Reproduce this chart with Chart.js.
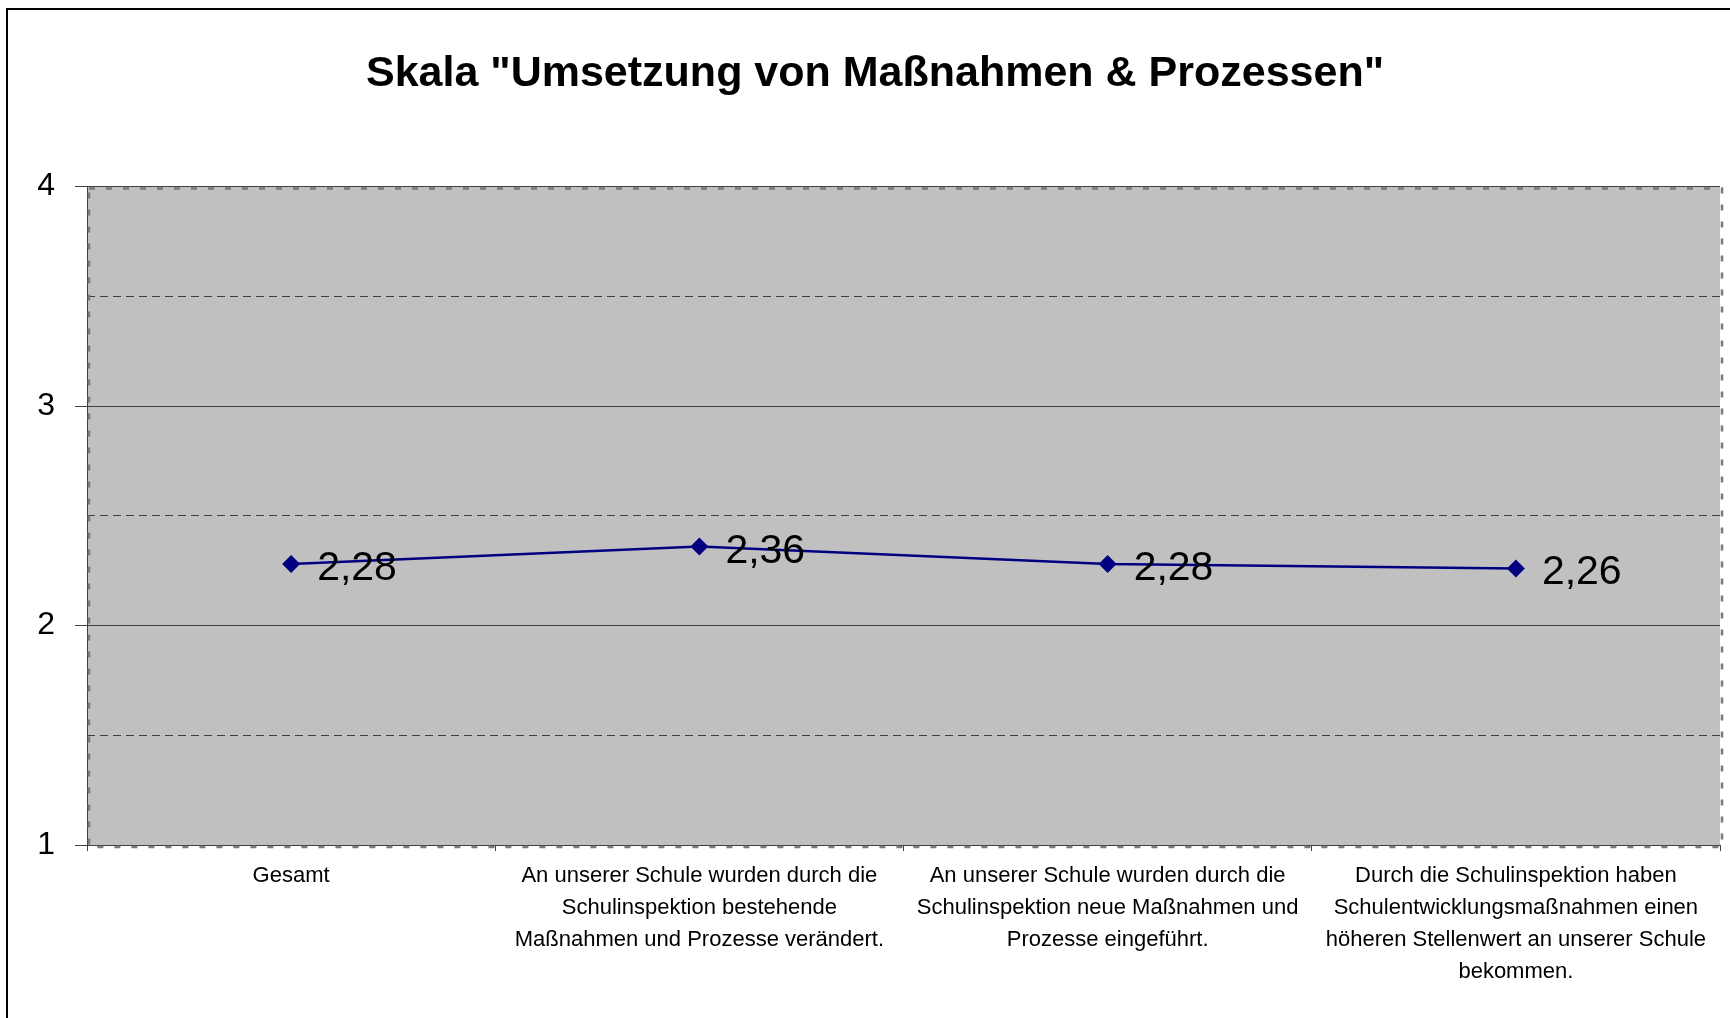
<!DOCTYPE html>
<html>
<head>
<meta charset="utf-8">
<script src="https://cdn.jsdelivr.net/npm/chart.js@4/dist/chart.umd.min.js"></script>
<style>
  html, body { margin: 0; padding: 0; background: #ffffff; }
  #wrap { width: 1730px; height: 1018px; }
</style>
</head>
<body>
<div id="wrap"><canvas id="c" width="1730" height="1018"></canvas></div>
<script>
const chartTitle = 'Skala "Umsetzung von Maßnahmen & Prozessen"';
const categories = [
  ["Gesamt"],
  ["An unserer Schule wurden durch die", "Schulinspektion bestehende", "Maßnahmen und Prozesse verändert."],
  ["An unserer Schule wurden durch die", "Schulinspektion neue Maßnahmen und", "Prozesse eingeführt."],
  ["Durch die Schulinspektion haben", "Schulentwicklungsmaßnahmen einen", "höheren Stellenwert an unserer Schule", "bekommen."]
];
const values = [2.28, 2.36, 2.28, 2.26];
const yTicks = [1, 2, 3, 4];
const yHalfTicks = [1.5, 2.5, 3.5];
const yMin = 1, yMax = 4;

const FONT = "'Liberation Sans', Arial, sans-serif";
const GRID = '#404040';

const framePlugin = {
  id: 'frame',
  beforeDraw(chart) {
    const ctx = chart.ctx;
    const a = chart.chartArea;
    ctx.save();
    ctx.fillStyle = '#ffffff';
    ctx.fillRect(0, 0, chart.width, chart.height);
    // outer frame
    ctx.strokeStyle = '#000000';
    ctx.lineWidth = 2;
    ctx.beginPath();
    ctx.moveTo(7, chart.height);
    ctx.lineTo(7, 9);
    ctx.lineTo(chart.width, 9);
    ctx.stroke();
    // plot background
    ctx.fillStyle = '#c0c0c0';
    ctx.fillRect(a.left, a.top, a.right - a.left, a.bottom - a.top);
    ctx.restore();
  },
  beforeDatasetsDraw(chart) {
    const ctx = chart.ctx;
    const a = chart.chartArea;
    ctx.save();
    ctx.strokeStyle = '#7a7a7a';
    ctx.lineWidth = 2.5;
    ctx.setLineDash([6, 11]);
    ctx.beginPath();
    ctx.rect(a.left + 2, a.top + 2, a.right - a.left, a.bottom - a.top);
    ctx.stroke();
    ctx.restore();
  }
};

const labelPlugin = {
  id: 'valueLabels',
  afterDatasetsDraw(chart) {
    const ctx = chart.ctx;
    const meta = chart.getDatasetMeta(0);
    ctx.save();
    ctx.font = '41px ' + FONT;
    ctx.fillStyle = '#000000';
    ctx.textAlign = 'left';
    ctx.textBaseline = 'alphabetic';
    meta.data.forEach((pt, i) => {
      const txt = values[i].toFixed(2).replace('.', ',');
      ctx.fillText(txt, pt.x + 26, pt.y + 16);
    });
    ctx.restore();
  }
};

new Chart(document.getElementById('c'), {
  type: 'line',
  data: {
    labels: categories,
    datasets: [{
      data: values,
      borderColor: '#000080',
      backgroundColor: '#000080',
      borderWidth: 2.5,
      pointStyle: 'rectRot',
      pointRadius: 9,
      pointBorderWidth: 0,
      pointBackgroundColor: '#000080',
      tension: 0,
      fill: false
    }]
  },
  options: {
    responsive: false,
    animation: false,
    devicePixelRatio: 1,
    layout: { padding: { left: 30, right: 10, top: 0, bottom: 0 } },
    plugins: {
      legend: { display: false },
      tooltip: { enabled: false },
      title: {
        display: true,
        text: chartTitle,
        color: '#000000',
        font: { family: FONT, size: 43, weight: 'bold', lineHeight: 1.2 },
        padding: { top: 48, bottom: 87 }
      }
    },
    scales: {
      x: {
        type: 'category',
        offset: true,
        grid: {
          display: true,
          drawOnChartArea: false,
          offset: true,
          tickLength: 6,
          tickColor: GRID,
          color: GRID
        },
        border: { display: true, color: GRID, width: 1 },
        ticks: {
          color: '#000000',
          font: { family: FONT, size: 22, lineHeight: 32 / 22 },
          padding: 9,
          maxRotation: 0,
          autoSkip: false
        },
        afterFit(axis) { axis.height = 173; }
      },
      y: {
        min: yMin,
        max: yMax,
        position: 'left',
        afterBuildTicks(axis) { axis.ticks = yTicks.map(v => ({ value: v })); },
        ticks: {
          color: '#000000',
          font: { family: FONT, size: 32 },
          padding: 20,
          callback: (v) => String(v)
        },
        grid: {
          color: GRID,
          lineWidth: 1,
          tickLength: 12,
          tickColor: GRID
        },
        border: { display: true, color: GRID, width: 1 },
        afterFit(axis) { axis.width = 57; }
      },
      y2: {
        min: yMin,
        max: yMax,
        position: 'right',
        afterBuildTicks(axis) { axis.ticks = yHalfTicks.map(v => ({ value: v })); },
        ticks: { display: false },
        grid: {
          color: GRID,
          lineWidth: 1,
          drawTicks: false
        },
        border: { display: false, dash: [8, 5] },
        afterFit(axis) { axis.width = 0; }
      }
    }
  },
  plugins: [framePlugin, labelPlugin]
});
</script>
</body>
</html>
